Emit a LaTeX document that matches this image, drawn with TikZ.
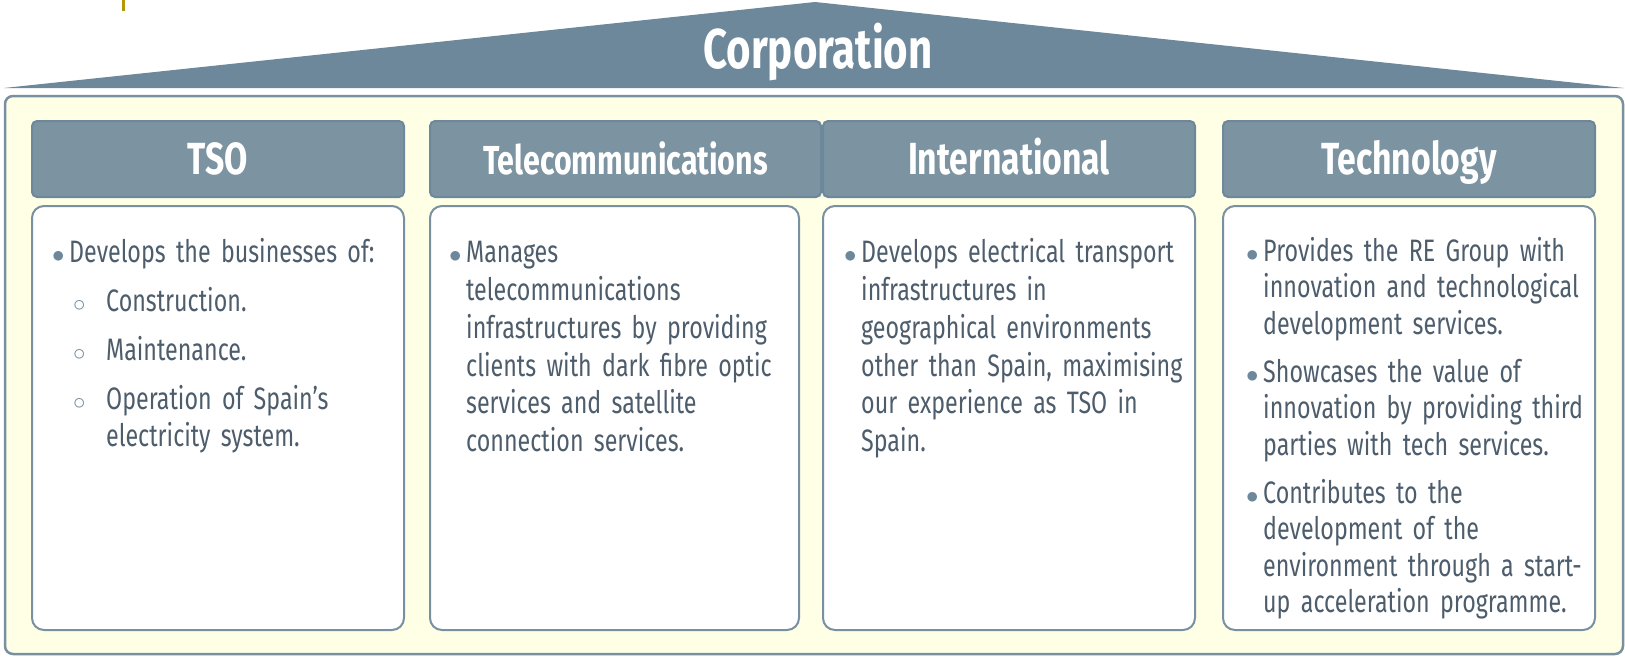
\documentclass[tikz,border=0pt]{standalone}
\usepackage{fontspec}
\setmainfont[FakeStretch=0.75]{Fira Sans}
\usepackage{tikz}
\usetikzlibrary{positioning}
\definecolor{roofblue}{HTML}{6D879B}
\definecolor{headblue}{HTML}{7C93A1}
\definecolor{lineblue}{HTML}{7890A2}
\definecolor{textgray}{HTML}{4D5D6C}
\definecolor{paleyellow}{HTML}{FFFFE6}
\definecolor{tickgold}{HTML}{B8960C}
\tikzstyle{groupbox} = [rectangle, draw=lineblue, line width=2.5pt, fill=paleyellow,
    rounded corners=8pt, minimum width=1618pt, minimum height=558pt, inner sep=0pt]
\tikzstyle{headbox} = [rectangle, draw=roofblue, line width=2pt, fill=headblue,
    rounded corners=5pt, minimum width=372pt, minimum height=76pt, inner sep=0pt,
    text=white, font=\bfseries\fontsize{45}{50}\selectfont, text height=31pt, text depth=0pt]
\tikzstyle{bodybox} = [rectangle, draw=lineblue, line width=2pt, fill=white,
    rounded corners=12pt, minimum width=372pt, minimum height=424pt, inner sep=0pt]
\tikzstyle{bodytext} = [text=textgray, text width=350pt, align=left, inner sep=0pt,
    font=\fontsize{31}{37.8}\selectfont, execute at begin node={\setlength{\parskip}{11pt}}]
\newcommand{\bpoint}[1]{\noindent\makebox[17pt][l]{\textcolor{roofblue}{$\bullet$}}%
    \parbox[t]{325pt}{\raggedright\strut#1\strut}\par}
\newcommand{\spoint}[1]{\noindent\hspace*{21pt}\makebox[33pt][l]{\textcolor{lineblue}{$\circ$}}%
    \parbox[t]{290pt}{\raggedright\strut#1\strut}\par}
\begin{document}
\begin{tikzpicture}[x=1pt, y=1pt, node distance=7pt]
    \useasboundingbox (0,0) rectangle (1625,-656);
    % Roof
    \fill[roofblue] (4,-88) -- (815,-2) -- (1624,-88) -- cycle;
    \node[text=white, anchor=base, font=\bfseries\fontsize{56}{60}\selectfont] (corp) at (818,-68) {Corporation};
    \draw[tickgold, line width=3pt] (123,0) -- (123,-11);

    % Group
    \node[groupbox] (group) at (814,-375) {};

    % Headers
    \node[headbox] (tsoHead) at (218,-159) {TSO};
    \node[headbox, minimum width=391pt, font=\bfseries\fontsize{40.5}{44}\selectfont, right=24pt of tsoHead] (telHead) {Telecommunications};
    \node[headbox, right=0pt of telHead] (intHead) {International};
    \node[headbox, right=26pt of intHead] (tecHead) {Technology};

    % Bodies
    \node[bodybox, below=of tsoHead] (tsoBody) {};
    \node[bodybox, minimum width=369pt, below right=7pt and 0pt of telHead.south west] (telBody) {};
    \node[bodybox, below=of intHead] (intBody) {};
    \node[bodybox, below=of tecHead] (tecBody) {};

    % Texts
    \node[bodytext, below right=31pt and 21pt of tsoBody.north west] (tsoText) {%
        \bpoint{Develops the businesses of:}
        \spoint{Construction.}
        \spoint{Maintenance.}
        \spoint{Operation of Spain’s\\electricity system.}};
    \node[bodytext, below right=31pt and 20pt of telBody.north west] (telText) {%
        \bpoint{Manages\\telecommunications\\infrastructures by providing\\clients with dark fibre optic\\services and satellite\\connection services.}};
    \node[bodytext, below right=31pt and 22pt of intBody.north west] (intText) {%
        \bpoint{Develops electrical transport\\infrastructures in\\geographical environments\\other than Spain, maximising\\our experience as TSO in\\Spain.}};
    \node[bodytext, font=\fontsize{31}{36.3}\selectfont, below right=31pt and 24pt of tecBody.north west] (tecText) {%
        \bpoint{Provides the RE Group with\\innovation and technological\\development services.}
        \bpoint{Showcases the value of\\innovation by providing third\\parties with tech services.}
        \bpoint{Contributes to the\\development of the\\environment through a start-\\up acceleration programme.}};
\end{tikzpicture}
\end{document}
